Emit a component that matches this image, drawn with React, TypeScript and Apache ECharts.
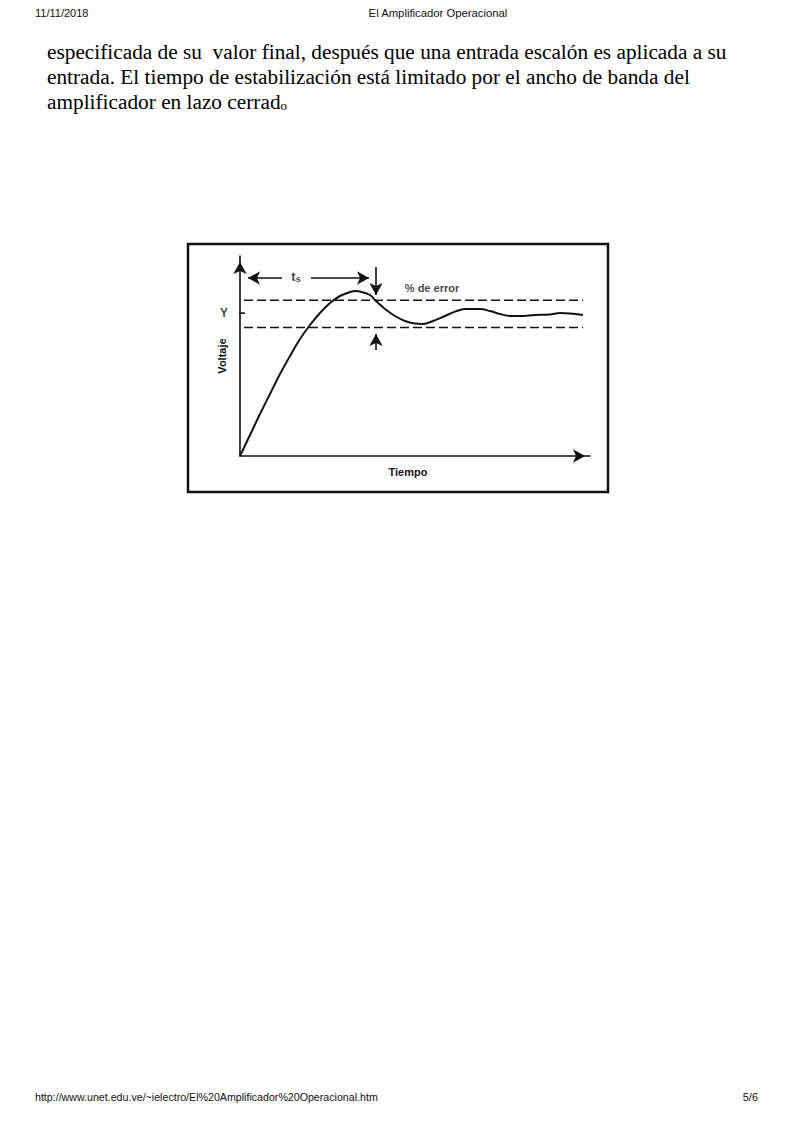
import React, { useEffect, useRef } from "react";
import * as echarts from "echarts";

// ---- data ----
// time axis in arbitrary units (0..35), voltage normalised to final value = 1
const timeSteps = [0, 1, 2, 3, 4, 5, 6, 7, 8, 9, 10, 11, 11.5, 12, 13, 13.6, 14.5, 15.5, 16.5, 17.5, 18.3, 19.3, 20.5, 21.5, 22.5, 24, 25, 26, 27, 28, 29.5, 31, 32, 33, 34.3];
const voltage = [0, 0.147, 0.294, 0.434, 0.574, 0.7, 0.819, 0.917, 1.001, 1.071, 1.12, 1.148, 1.155, 1.151, 1.127, 1.085, 1.029, 0.98, 0.945, 0.927, 0.924, 0.945, 0.98, 1.011, 1.029, 1.029, 1.015, 0.994, 0.98, 0.98, 0.987, 0.99, 1.001, 0.998, 0.987];
const finalValue = 1.0;
const errorBand = [1.09, 0.9]; // upper, lower dashed limits
const bandRange = [0.4, 34.3];
const settleTime = 13.6;
const axisMax = [35, 1.4];

const headerLeft = "11/11/2018";
const headerTitle = "El Amplificador Operacional";
const bodyLines = [
  "especificada de su  valor final, después que una entrada escalón es aplicada a su",
  "entrada. El tiempo de estabilización está limitado por el ancho de banda del",
  "amplificador en lazo cerrad{s|o}",
];
const footerUrl = "http://www.unet.edu.ve/~ielectro/El%20Amplificador%20Operacional.htm";
const footerPage = "5/6";
const labelTexts = { y: "Y", ts: "t{s|s}", err: "% de error", x: "Tiempo", yName: "Voltaje" };

const INK = "#111";
const SANS = "'Liberation Sans', Arial, sans-serif";
const SERIF = "'Liberation Serif', 'Times New Roman', serif";

export default function App() {
  const ref = useRef<HTMLDivElement>(null);

  useEffect(() => {
    if (!ref.current) return;
    const chart = echarts.init(ref.current, undefined, { renderer: "svg" });
    const curve = timeSteps.map((t, i) => [t, voltage[i]]);
    const lineBase = { type: "line", showSymbol: false, silent: true, symbol: "none" } as any;
    const arrowLine = { color: INK, width: 1.6, type: "solid" };
    const arrowSize = [10, 12];

    chart.setOption({
      animation: false,
      backgroundColor: "#fff",
      tooltip: { show: false },
      grid: { left: 240, top: 256, width: 350, height: 200 },
      xAxis: {
        type: "value",
        min: 0,
        max: axisMax[0],
        name: labelTexts.x,
        nameLocation: "middle",
        nameGap: 10,
        nameTextStyle: { fontFamily: SANS, fontWeight: "bold", fontSize: 11, color: INK, padding: [0, 14, 0, 0] },
        axisLine: { show: true, lineStyle: { color: INK, width: 1.6 }, symbol: ["none", "arrow"], symbolSize: arrowSize, symbolOffset: [0, -5] },
        axisTick: { show: false },
        axisLabel: { show: false },
        splitLine: { show: false },
      },
      yAxis: {
        type: "value",
        min: 0,
        max: axisMax[1],
        name: labelTexts.yName,
        nameLocation: "middle",
        nameGap: 13,
        nameRotate: 90,
        nameTextStyle: { fontFamily: SANS, fontWeight: "bold", fontSize: 11, color: INK, padding: [0, 0, 0, 0] },
        axisLine: { show: true, lineStyle: { color: INK, width: 1.6 }, symbol: ["none", "arrow"], symbolSize: arrowSize, symbolOffset: [0, -6] },
        axisTick: { show: false },
        axisLabel: { show: false },
        splitLine: { show: false },
      },
      graphic: [
        { type: "rect", z: 0, shape: { x: 188, y: 244, width: 420, height: 248 }, style: { fill: "none", stroke: INK, lineWidth: 2.5 } },
        { type: "text", x: 35, y: 13, style: { text: headerLeft, font: `11px ${SANS}`, fill: INK, verticalAlign: "middle", align: "left" } },
        { type: "text", x: 438, y: 13, style: { text: headerTitle, font: `11.3px ${SANS}`, fill: INK, verticalAlign: "middle", align: "center" } },
        ...bodyLines.map((t, i) => ({
          type: "text",
          x: 47,
          y: 52 + i * 25,
          style: {
            text: t,
            font: `21.3px ${SERIF}`,
            fill: "#000",
            verticalAlign: "middle",
            align: "left",
            rich: { s: { fontSize: 13, fontFamily: SERIF, fill: "#000", padding: [7, 0, 0, 0] } },
          },
        })),
        { type: "text", x: 35, y: 1097, style: { text: footerUrl, font: `10.65px ${SANS}`, fill: INK, verticalAlign: "middle", align: "left" } },
        { type: "text", x: 758, y: 1097, style: { text: footerPage, font: `11px ${SANS}`, fill: INK, verticalAlign: "middle", align: "right" } },
      ],
      series: [
        { ...lineBase, name: "response", data: curve, smooth: 0.35, lineStyle: { color: INK, width: 2 }, z: 5 },
        { ...lineBase, name: "upper", data: [[bandRange[0], errorBand[0]], [bandRange[1], errorBand[0]]], lineStyle: { color: INK, width: 1.5, type: [9, 4] } },
        { ...lineBase, name: "lower", data: [[bandRange[0], errorBand[1]], [bandRange[1], errorBand[1]]], lineStyle: { color: INK, width: 1.5, type: [9, 4] } },
        { ...lineBase, name: "finalTick", clip: false, data: [[-0.5, finalValue], [0.5, finalValue]], lineStyle: { color: INK, width: 1.6 } },
        {
          ...lineBase,
          name: "tsLeft",
          data: [],
          markLine: {
            silent: true,
            symbol: ["arrow", "none"],
            symbolSize: arrowSize,
            label: { show: false },
            lineStyle: arrowLine,
            data: [[{ coord: [0.8, 1.246] }, { coord: [4.2, 1.246] }]],
          },
        },
        {
          ...lineBase,
          name: "tsRight",
          data: [],
          markLine: {
            silent: true,
            symbol: ["none", "arrow"],
            symbolSize: arrowSize,
            label: { show: false },
            lineStyle: arrowLine,
            data: [
              [{ coord: [7.1, 1.246] }, { coord: [12.9, 1.246] }],
              [{ coord: [settleTime, 1.323] }, { coord: [settleTime, 1.127] }],
              [{ coord: [settleTime, 0.742] }, { coord: [settleTime, 0.854] }],
            ],
          },
        },
        {
          type: "scatter",
          name: "labels",
          silent: true,
          clip: false,
          symbolSize: 0,
          itemStyle: { color: INK },
          label: {
            show: true,
            position: "inside",
            color: INK,
            textBorderWidth: 0,
            fontFamily: SANS,
            formatter: (p: any) => p.value[2],
            rich: { s: { fontSize: 9, fontWeight: "bold", fontFamily: SANS, color: INK, padding: [5, 0, 0, 0] } },
          },
          data: [
            { value: [-1.6, finalValue, labelTexts.y], label: { fontSize: 12, color: INK, fontWeight: "bold" } },
            { value: [5.6, 1.26, labelTexts.ts], label: { fontSize: 13, color: INK, fontWeight: "bold" } },
            { value: [19.2, 1.176, labelTexts.err], label: { fontSize: 11, fontWeight: "bold", color: INK } },
          ],
        },
      ],
    });
    return () => chart.dispose();
  }, []);

  return <div ref={ref} style={{ position: "absolute", left: 0, top: 0, width: 793, height: 1123, background: "#fff" }} />;
}
